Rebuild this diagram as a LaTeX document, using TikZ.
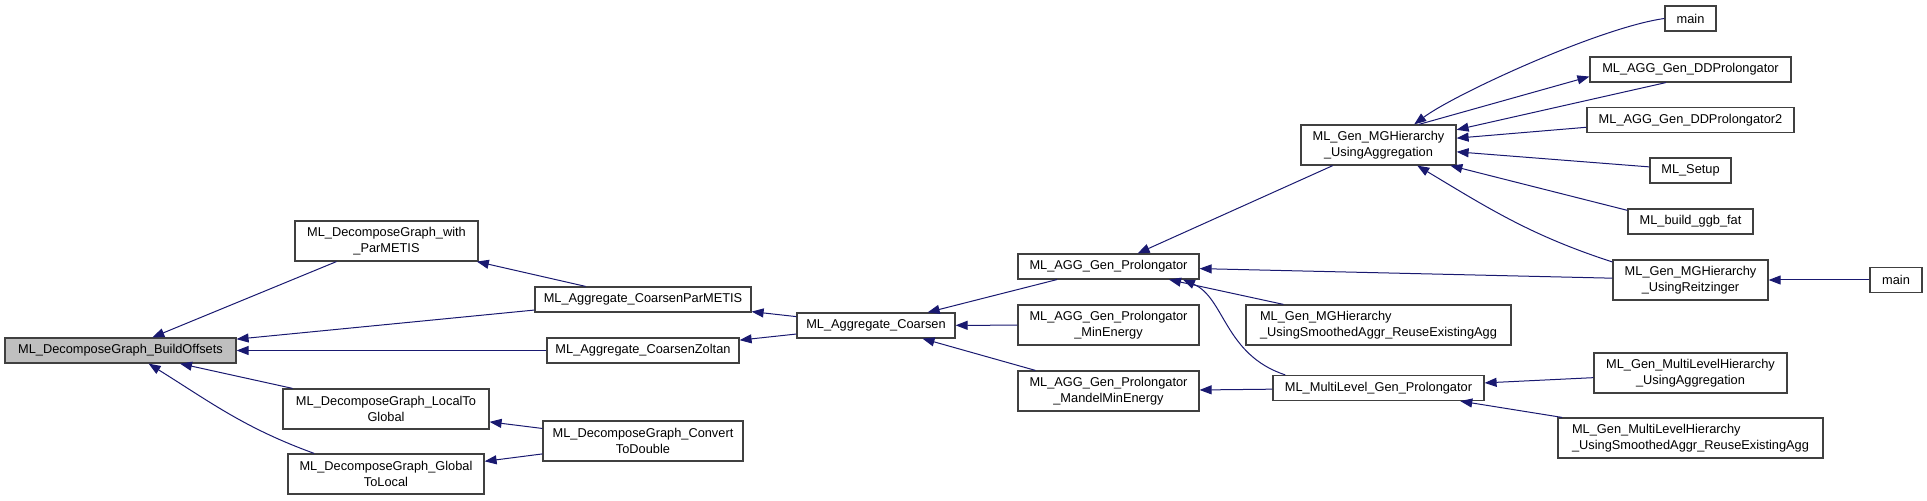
\documentclass[tikz,border=0pt]{standalone}
\usepackage{fontspec}
\setmainfont{Liberation Sans}
\usetikzlibrary{arrows.meta}
\definecolor{navy}{RGB}{25,25,112}
\definecolor{boxline}{RGB}{64,64,64}
\begin{document}
\begin{tikzpicture}[x=0.5pt,y=0.5pt,
  box/.style={draw=boxline, line width=0.6pt, fill=white, inner sep=0pt, align=center,
    font=\fontsize{6.4}{7.85}\selectfont},
  one/.style={minimum height=12.5pt},
  two/.style={minimum height=20pt},
  cur/.style={fill={rgb,255:red,191;green,191;blue,191}},
  edge/.style={draw=navy, line width=0.5pt, arrows={Triangle[length=6pt,width=4.5pt,fill=navy]-}}]
\useasboundingbox (0,0) rectangle (1927,-501);
% nodes
\node[box,one,cur,minimum width=115.5pt] (bo) at (120.5,-350.5) {ML\_DecomposeGraph\_BuildOffsets};
\node[box,two,minimum width=91.5pt] (wpm) at (386.5,-241) {ML\_DecomposeGraph\_with\\\_ParMETIS};
\node[box,two,minimum width=103pt] (l2g) at (386,-409) {ML\_DecomposeGraph\_LocalTo\\Global};
\node[box,two,minimum width=98pt] (g2l) at (386,-474) {ML\_DecomposeGraph\_Global\\ToLocal};
\node[box,one,minimum width=108pt] (cpm) at (643,-299.5) {ML\_Aggregate\_CoarsenParMETIS};
\node[box,one,minimum width=96pt] (czo) at (643,-350.5) {ML\_Aggregate\_CoarsenZoltan};
\node[box,two,minimum width=100pt] (ctd) at (643,-441) {ML\_DecomposeGraph\_Convert\\ToDouble};
\node[box,one,minimum width=79pt] (coa) at (876,-325.5) {ML\_Aggregate\_Coarsen};
\node[box,one,minimum width=90.5pt] (agp) at (1108.5,-266.5) {ML\_AGG\_Gen\_Prolongator};
\node[box,two,minimum width=90.5pt] (me) at (1108.5,-325) {ML\_AGG\_Gen\_Prolongator\\\_MinEnergy};
\node[box,two,minimum width=90.5pt] (mme) at (1108.5,-391) {ML\_AGG\_Gen\_Prolongator\\\_MandelMinEnergy};
\node[box,two,minimum width=77.5pt] (mgua) at (1378.5,-145) {ML\_Gen\_MGHierarchy\\\_UsingAggregation};
\node[box,two,align=left,minimum width=132.5pt] (sar) at (1378.5,-325) {ML\_Gen\_MGHierarchy\\\_UsingSmoothedAggr\_ReuseExistingAgg};
\node[box,one,minimum width=105.5pt] (mlgp) at (1378.5,-388) {ML\_MultiLevel\_Gen\_Prolongator};
\node[box,one,minimum width=25.5pt] (main1) at (1690.5,-18.5) {main};
\node[box,one,minimum width=100.5pt] (dd) at (1690.5,-69.5) {ML\_AGG\_Gen\_DDProlongator};
\node[box,one,minimum width=103.5pt] (dd2) at (1690.5,-120) {ML\_AGG\_Gen\_DDProlongator2};
\node[box,one,minimum width=40.5pt] (setup) at (1690.5,-170.5) {ML\_Setup};
\node[box,one,minimum width=62.5pt] (ggb) at (1690.5,-221.5) {ML\_build\_ggb\_fat};
\node[box,two,minimum width=77.5pt] (reitz) at (1690.5,-280) {ML\_Gen\_MGHierarchy\\\_UsingReitzinger};
\node[box,one,minimum width=26pt] (main2) at (1896,-280) {main};
\node[box,two,minimum width=96.5pt] (mlha) at (1690.5,-373) {ML\_Gen\_MultiLevelHierarchy\\\_UsingAggregation};
\node[box,two,align=left,minimum width=132.5pt] (mlhs) at (1690.5,-438) {ML\_Gen\_MultiLevelHierarchy\\\_UsingSmoothedAggr\_ReuseExistingAgg};
% edges
\draw[edge] (bo) -- (wpm);
\draw[edge] (bo) -- (cpm);
\draw[edge] (bo) -- (czo);
\draw[edge] (bo) -- (l2g);
\draw[edge] (bo.-25) to[out=-32,in=160] (g2l.164);
\draw[edge] (wpm) -- (cpm);
\draw[edge] (l2g) -- (ctd);
\draw[edge] (g2l) -- (ctd);
\draw[edge] (cpm) -- (coa);
\draw[edge] (czo) -- (coa);
\draw[edge] (coa) -- (agp);
\draw[edge] (coa) -- (me);
\draw[edge] (coa) -- (mme);
\draw[edge] (agp) -- (mgua);
\draw[edge] (agp) -- (reitz);
\draw[edge] (agp) -- (sar);
\draw[edge] (agp.-10) .. controls +(42,-18) and +(-61,20) .. (mlgp.172);
\draw[edge] (mme) -- (mlgp);
\draw[edge] (mgua.30) .. controls +(40,30) and +(-65,-9) .. (main1.west);
\draw[edge] (mgua.11) -- (dd.208);
\draw[edge] (dd.184) -- (mgua.27);
\draw[edge] (mgua.5) -- (dd2.184);
\draw[edge] (mgua.-5) -- (setup.175);
\draw[edge] (mgua.-16) -- (ggb.170);
\draw[edge] (mgua.-28) to[out=-31,in=162] (reitz.167);
\draw[edge] (reitz) -- (main2);
\draw[edge] (mlgp) -- (mlha);
\draw[edge] (mlgp) -- (mlhs);
\end{tikzpicture}
\end{document}
